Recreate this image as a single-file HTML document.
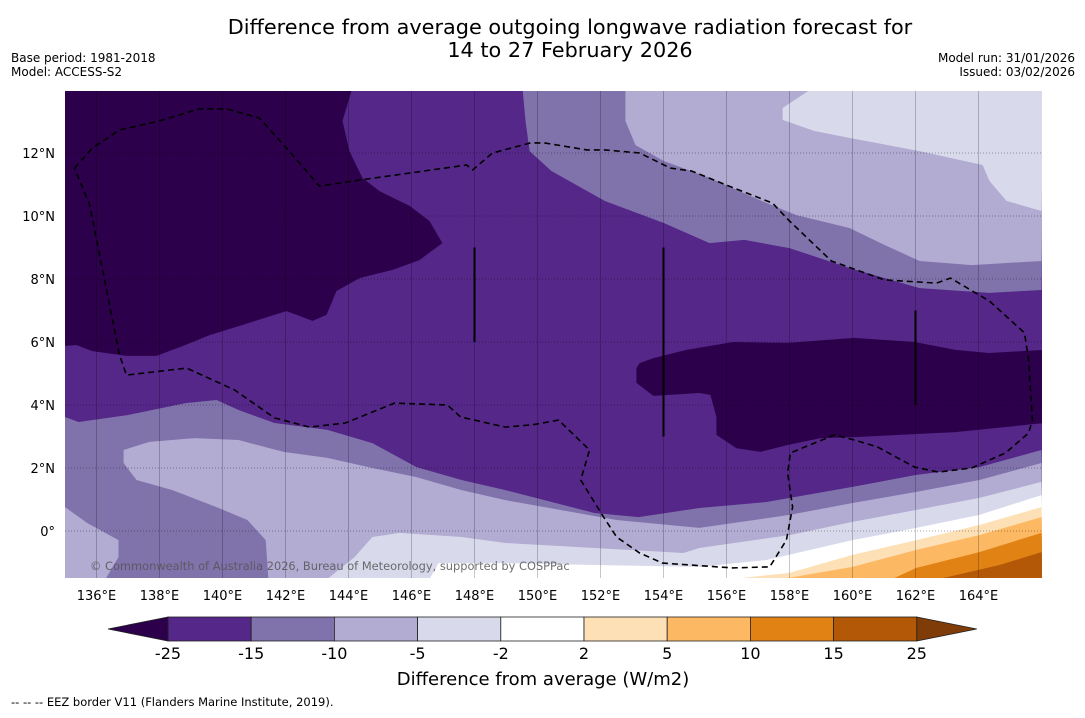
<!DOCTYPE html>
<html><head><meta charset="utf-8">
<style>
html,body{margin:0;padding:0;background:#fff;}
svg text{font-family:"DejaVu Sans","Liberation Sans",sans-serif;}
</style></head>
<body>
<svg id="chart" width="1085" height="713" viewBox="0 0 1085 713" xmlns="http://www.w3.org/2000/svg">
  <text x="570" y="34" font-size="20.8" text-anchor="middle" fill="#000">Difference from average outgoing longwave radiation forecast for</text>
  <text x="570" y="57" font-size="20.8" text-anchor="middle" fill="#000">14 to 27 February 2026</text>
  <text x="11" y="62" font-size="12">Base period: 1981-2018</text>
  <text x="11" y="76" font-size="12">Model: ACCESS-S2</text>
  <text x="1075" y="62" font-size="12" text-anchor="end">Model run: 31/01/2026</text>
  <text x="1075" y="76" font-size="12" text-anchor="end">Issued: 03/02/2026</text>
  <defs><clipPath id="mapclip"><rect x="65" y="91" width="977" height="487"/></clipPath></defs>
  <g id="map" clip-path="url(#mapclip)"></g>
  <g id="axes"></g>
  <g id="cbar"></g>
  <text x="543" y="685" font-size="18" text-anchor="middle">Difference from average (W/m2)</text>
  <text x="11" y="706" font-size="11.5">--  --  -- EEZ border V11 (Flanders Marine Institute, 2019).</text>
</svg>
<script>
const levels = [-25,-15,-10,-5,-2,2,5,10,15,25];
const bandColors = ["#2d004b","#542788","#8073ac","#b2abd2","#d8daeb","#ffffff","#fee0b6","#fdb863","#e08214","#b35806","#7f3b08"];
const lonTicks = [136,138,140,142,144,146,148,150,152,154,156,158,160,162,164];
const latTicks = [0,2,4,6,8,10,12];
const bottomNeg15 = [[135,3.62],[135.43,3.46],[136.98,3.68],[138.83,4.06],[139.81,4.16],[140.51,3.84],[141.65,3.43],[143.33,3.21],[144.76,2.79],[146.16,2.03],[147.59,1.62],[148.98,1.30],[151.81,0.57],[153.21,0.44],[155.14,0.73],[157.27,0.92],[160.0,1.40],[162.03,1.78],[164.03,2.03],[166,2.57]];
const regionNeg10 = [[136.86,2.57],[137.68,2.83],[139.11,2.95],[140.51,2.89],[141.94,2.51],[143.33,2.32],[144.76,2.0],[146.16,1.71],[147.59,1.30],[148.98,0.98],[150.38,0.73],[152.51,0.35],[155.14,0.10],[158.0,0.51],[160.0,0.89],[162.03,1.24],[164.03,1.62],[166,2.16],[166,-2],[141.49,-2],[141.37,-0.29],[140.79,0.35],[139.81,0.76],[138.41,1.30],[137.27,1.62],[136.86,2.16]];
const wedgeNeg10 = [[135,0.76],[135.71,0.25],[136.70,-0.29],[136.70,-0.83],[136.29,-1.52],[135,-1.52]];
const bottomNeg5 = [[143.33,-1.52],[144.19,-0.83],[144.76,-0.19],[145.62,-0.06],[147.59,-0.19],[148.98,-0.38],[151.81,-0.54],[154.63,-0.70],[155.14,-0.54],[158.0,-0.13],[160.0,0.29],[162.03,0.67],[164.03,1.05],[166,1.56]];
const bottomNeg2 = [[146.57,-1.52],[146.86,-1.02],[148.98,-1.02],[151.81,-1.08],[155.14,-1.14],[157.27,-0.92],[160.0,-0.29],[162.03,0.10],[164.03,0.51],[166,1.14]];
const bottomPos2 = [[156.19,-1.52],[158.0,-1.33],[160.0,-0.76],[162.03,-0.29],[164.03,0.19],[166,0.76]];
const bottomPos5 = [[157.78,-1.52],[160.0,-1.14],[162.03,-0.60],[164.03,-0.13],[166,0.44]];
const bottomPos10 = [[161.27,-1.52],[162.03,-1.17],[164.03,-0.67],[166,-0.06]];
const bottomPos15 = [[162.76,-1.52],[164.67,-1.08],[166,-0.67]];
const topNeg15 = [[149.52,14.1],[149.62,13.02],[149.75,12.06],[150.44,11.43],[152.13,10.48],[154.0,9.78],[155.46,9.14],[156.57,9.24],[158.0,8.98],[159.9,8.35],[162.13,7.71],[164.35,7.56],[166,7.65]];
const topNeg10 = [[152.79,14.1],[152.79,13.02],[153.11,12.25],[154.0,11.75],[155.46,11.21],[157.11,10.48],[158.22,10.03],[159.9,9.62],[161.02,9.08],[162.13,8.57],[163.78,8.44],[166,8.57]];
const topNeg5 = [[158.79,14.1],[157.78,13.43],[157.78,13.05],[158.79,12.70],[159.9,12.48],[162.13,12.06],[164.13,11.62],[164.35,11.11],[164.89,10.48],[166,10.16]];
const darkNorthWest = [[134.9,14.1],[144.13,14.1],[143.81,13.02],[144.03,12.06],[144.44,11.21],[144.98,10.79],[145.94,10.32],[146.57,9.84],[146.98,9.14],[146.25,8.60],[145.40,8.29],[144.35,8.03],[143.62,7.62],[143.30,6.86],[142.86,6.67],[142.03,6.98],[140.63,6.54],[139.59,6.22],[138.73,5.87],[137.90,5.56],[136.95,5.56],[135.87,5.71],[135.37,5.90],[134.9,5.87]];
const darkEast = [[153.14,5.17],[153.24,5.33],[153.68,5.49],[154.73,5.75],[156.22,6.0],[157.94,5.97],[160.06,6.13],[161.97,6.0],[163.27,5.75],[164.32,5.65],[166.1,5.75],[166.1,3.43],[163.27,3.14],[160.06,2.98],[158.98,2.95],[157.94,2.73],[157.08,2.51],[156.32,2.63],[155.68,3.05],[155.68,3.62],[155.49,4.32],[155.14,4.38],[153.68,4.29],[153.14,4.70]];
const eezBorder = [[135.30,11.52],[135.87,12.16],[136.73,12.73],[138.0,13.02],[139.27,13.40],[140.13,13.40],[141.17,13.11],[142.03,12.16],[143.08,10.95],[144.35,11.14],[147.75,11.62],[147.94,11.46],[148.57,12.0],[149.78,12.32],[150.22,12.32],[151.56,12.10],[152.13,12.10],[153.24,12.0],[154.22,11.52],[154.89,11.43],[156.0,10.98],[157.46,10.41],[158.0,9.84],[159.33,8.57],[161.02,7.97],[162.67,7.87],[163.11,8.03],[164.35,7.30],[165.46,6.29],[165.59,5.43],[165.71,3.52],[165.59,3.11],[164.86,2.48],[163.78,2.0],[162.73,1.87],[161.97,2.03],[160.79,2.67],[160.06,2.89],[159.43,3.05],[158.03,2.48],[157.94,1.84],[158.10,0.76],[157.90,-0.29],[157.37,-1.14],[156.19,-1.17],[153.97,-1.02],[153.24,-0.70],[152.51,-0.19],[152.10,0.44],[151.37,1.62],[151.65,2.57],[150.67,3.52],[149.84,3.37],[148.98,3.30],[147.56,3.62],[147.14,4.0],[145.46,4.06],[143.90,3.43],[142.76,3.30],[141.65,3.59],[140.38,4.48],[138.86,5.17],[136.95,4.95],[136.73,5.59],[135.78,10.35],[135.30,11.52]];
const markerLines = [[148,6,9],[154,3,9],[162,4,7]];

const NS = "http://www.w3.org/2000/svg";
const xS = lon => 65 + (lon - 135) * 31.5;
const yS = lat => 531 - lat * 31.5;
const map = document.getElementById('map');
const axes = document.getElementById('axes');
const cbar = document.getElementById('cbar');
function mk(tag, attrs, parent){ const e=document.createElementNS(NS,tag); for(const k in attrs) e.setAttribute(k,attrs[k]); parent.appendChild(e); return e; }
function pts(arr){ return arr.map(p=>xS(p[0]).toFixed(1)+","+yS(p[1]).toFixed(1)).join(" "); }
function closeBottom(line){ return line.concat([[166.1,-2],[line[0][0],-2]]); }
function closeTop(line){ return line.concat([[166.1,14.5],[line[0][0],14.5]]); }
function region(arr,color,name){
  const p=mk('polygon',{points:pts(arr),fill:color},map);
  
  
}
const base=mk('rect',{x:65,y:91,width:977,height:487,fill:bandColors[1]},map);


region(closeBottom(bottomNeg15),bandColors[2],'band-minus15-minus10-south');
region(regionNeg10,bandColors[3],'band-minus10-minus5-south');
region(wedgeNeg10,bandColors[3],'band-minus10-minus5-southwest');
region(closeBottom(bottomNeg5),bandColors[4],'band-minus5-minus2-south');
region(closeBottom(bottomNeg2),bandColors[5],'band-minus2-2');
region(closeBottom(bottomPos2),bandColors[6],'band-2-5');
region(closeBottom(bottomPos5),bandColors[7],'band-5-10');
region(closeBottom(bottomPos10),bandColors[8],'band-10-15');
region(closeBottom(bottomPos15),bandColors[9],'band-15-25');
region(closeTop(topNeg15),bandColors[2],'band-minus15-minus10-north');
region(closeTop(topNeg10),bandColors[3],'band-minus10-minus5-north');
region(closeTop(topNeg5),bandColors[4],'band-minus5-minus2-north');
region(darkNorthWest,bandColors[0],'band-below-minus25-northwest');
region(darkEast,bandColors[0],'band-below-minus25-east');

lonTicks.forEach(l=>{
  const g=mk('line',{x1:xS(l),x2:xS(l),y1:91,y2:578,stroke:'#000','stroke-opacity':0.22,'stroke-width':1},map);
  
  
  const t=mk('text',{x:xS(l),y:600,'font-size':13,'text-anchor':'middle'},axes);
  t.textContent=l+'°E';
  
  
});
latTicks.forEach(l=>{
  const g=mk('line',{x1:65,x2:1042,y1:yS(l),y2:yS(l),stroke:'#000','stroke-opacity':0.35,'stroke-width':1,'stroke-dasharray':'1,2'},map);
  
  
  const t=mk('text',{x:55,y:yS(l)+5,'font-size':13,'text-anchor':'end'},axes);
  t.textContent=l===0?'0°':l+'°N';
  
  
});
const eez=mk('polyline',{points:pts(eezBorder),fill:'none',stroke:'#000','stroke-width':1.6,'stroke-dasharray':'6,4'},map);


markerLines.forEach(m=>{
  const l=mk('line',{x1:xS(m[0]),x2:xS(m[0]),y1:yS(m[1]),y2:yS(m[2]),stroke:'#000','stroke-width':2},map);
  
  
});
const cp=mk('text',{x:90,y:570,'font-size':11.4,fill:'#555','fill-opacity':0.85},map);
cp.textContent='© Commonwealth of Australia 2026, Bureau of Meteorology, supported by COSPPac';



const cbX0=168, cbW=83.2, cbY=617, cbH=24;
const cx = i => cbX0 + i*cbW;
for(let i=0;i<levels.length-1;i++){
  const r=mk('rect',{x:cx(i),y:cbY,width:cbW,height:cbH,fill:bandColors[i+1],stroke:'#222','stroke-width':0.8},cbar);
  
  
}
const tl=mk('polygon',{points:`${cx(0)},${cbY} ${cx(0)-60},${cbY+cbH/2} ${cx(0)},${cbY+cbH}`,fill:bandColors[0],stroke:'#222','stroke-width':0.8},cbar);


const last=levels.length-1;
const tr=mk('polygon',{points:`${cx(last)},${cbY} ${cx(last)+60},${cbY+cbH/2} ${cx(last)},${cbY+cbH}`,fill:bandColors[10],stroke:'#222','stroke-width':0.8},cbar);


levels.forEach((v,i)=>{
  const t=mk('text',{x:cx(i),y:659,'font-size':16,'text-anchor':'middle'},cbar);
  t.textContent=v;
  
  
});
</script>
</body></html>
